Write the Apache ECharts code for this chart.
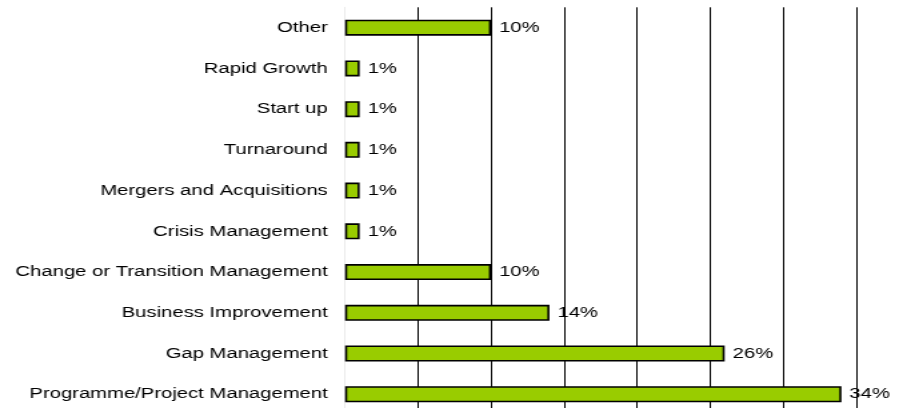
<!DOCTYPE html>
<html>
<head>
<meta charset="utf-8">
<script src="https://cdn.jsdelivr.net/npm/echarts@6/dist/echarts.min.js"></script>
<style>
  html, body { margin: 0; padding: 0; background: #fff; overflow: hidden; width: 907px; height: 408px; }
  #chart { width: 680px; height: 420px; transform: scaleX(1.33382); transform-origin: 0 0; }
</style>
</head>
<body>
<div id="chart"></div>
<script>
// Categories listed top to bottom
var categories = [
  'Other',
  'Rapid Growth',
  'Start up',
  'Turnaround',
  'Mergers and Acquisitions',
  'Crisis Management',
  'Change or Transition Management',
  'Business Improvement',
  'Gap Management',
  'Programme/Project Management'
];
var values = [10, 1, 1, 1, 1, 1, 10, 14, 26, 34];
var axisMin = 0, axisMax = 35, axisStep = 5;

var chart = echarts.init(document.getElementById('chart'), null, { renderer: 'canvas' });
var font = '"Liberation Sans", Arial, sans-serif';
chart.setOption({
  animation: false,
  backgroundColor: '#ffffff',
  grid: { left: 258.7, width: 383.1, top: 7.3, height: 407.3, containLabel: false },
  xAxis: {
    type: 'value',
    min: axisMin, max: axisMax, interval: axisStep,
    axisLine: { show: false },
    axisTick: { show: false },
    axisLabel: { show: false },
    splitLine: { show: true, lineStyle: { color: '#000000', width: 1 } }
  },
  yAxis: {
    type: 'category',
    data: categories,
    inverse: true,
    axisLine: { show: true, lineStyle: { color: '#ececec', width: 1 } },
    axisTick: { show: false },
    splitLine: { show: false },
    axisLabel: { color: '#000000', fontSize: 15.2, fontFamily: font, margin: 13 }
  },
  series: [{
    type: 'bar',
    data: values,
    barWidth: 16,
    itemStyle: { color: '#99cc00', borderColor: '#000000', borderWidth: 1.6 },
    label: {
      show: true, position: 'right', distance: 6,
      formatter: '{c}%', color: '#000000', fontSize: 15.2, fontFamily: font
    }
  }]
});
</script>
</body>
</html>
